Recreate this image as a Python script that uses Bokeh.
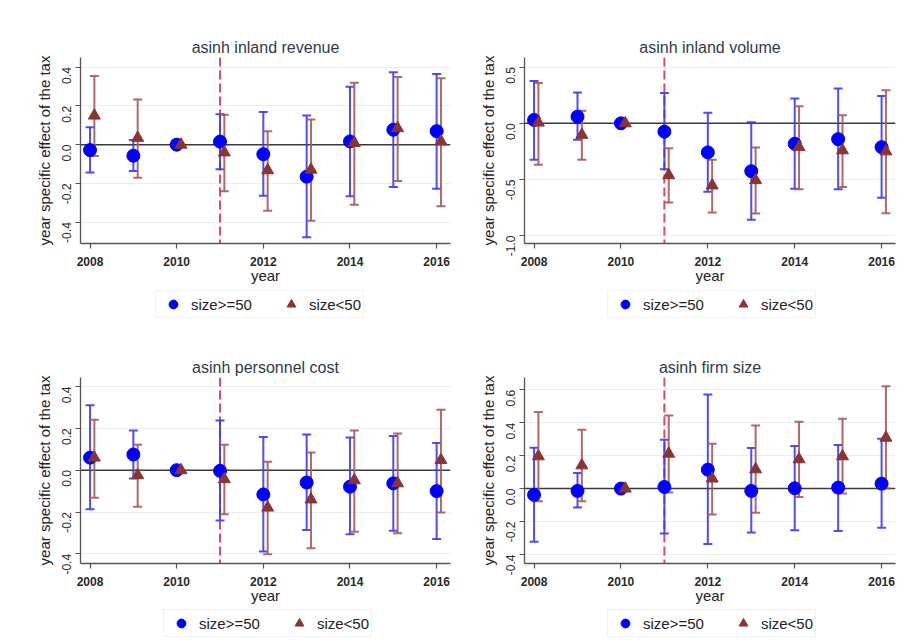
import math
from bokeh.plotting import figure
from bokeh.models import (ColumnDataSource, Whisker, TeeHead, Span, FixedTicker,
                          NumeralTickFormatter, Legend, LegendItem, Range1d)
from bokeh.layouts import row, column
from bokeh.embed import file_html
from bokeh.resources import INLINE

# ---------------- data ----------------
years = [2008, 2009, 2010, 2011, 2012, 2013, 2014, 2015, 2016]
x_ticks = [2008, 2010, 2012, 2014, 2016]
tax_year = 2011
baseline = 0.0
label_big = "size>=50"
label_small = "size<50"

# asinh inland revenue
rev_big = [-0.028, -0.057, 0.0, 0.016, -0.049, -0.165, 0.017, 0.077, 0.070]
rev_big_lo = [-0.144, -0.136, None, -0.127, -0.263, -0.478, -0.266, -0.219, -0.228]
rev_big_hi = [0.090, 0.024, None, 0.157, 0.169, 0.151, 0.299, 0.374, 0.365]
rev_small = [0.150, 0.035, 0.0, -0.040, -0.132, -0.129, 0.009, 0.085, 0.017]
rev_small_lo = [-0.059, -0.170, None, -0.240, -0.341, -0.393, -0.310, -0.188, -0.318]
rev_small_hi = [0.355, 0.233, None, 0.155, 0.070, 0.130, 0.320, 0.350, 0.343]
rev_yticks = [-0.4, -0.2, 0.0, 0.2, 0.4]

# asinh inland volume
vol_big = [0.030, 0.059, 0.0, -0.074, -0.259, -0.426, -0.182, -0.141, -0.212]
vol_big_lo = [-0.324, -0.147, None, -0.410, -0.609, -0.859, -0.582, -0.588, -0.662]
vol_big_hi = [0.376, 0.274, None, 0.270, 0.094, 0.009, 0.220, 0.309, 0.244]
vol_small = [0.006, -0.103, 0.0, -0.462, -0.553, -0.506, -0.212, -0.241, -0.250]
vol_small_lo = [-0.368, -0.324, None, -0.706, -0.794, -0.803, -0.588, -0.568, -0.800]
vol_small_hi = [0.359, 0.112, None, -0.221, -0.324, -0.215, 0.153, 0.071, 0.294]
vol_yticks = [-1.0, -0.5, 0.0, 0.5]

# asinh personnel cost
pc_big = [0.060, 0.075, 0.0, -0.003, -0.116, -0.059, -0.079, -0.063, -0.100]
pc_big_lo = [-0.187, -0.040, None, -0.241, -0.389, -0.286, -0.306, -0.290, -0.329]
pc_big_hi = [0.310, 0.190, None, 0.238, 0.159, 0.170, 0.156, 0.163, 0.130]
pc_small = [0.060, -0.024, 0.0, -0.043, -0.179, -0.140, -0.048, -0.063, 0.048]
pc_small_lo = [-0.132, -0.175, None, -0.211, -0.402, -0.373, -0.294, -0.302, -0.202]
pc_small_hi = [0.241, 0.122, None, 0.122, 0.040, 0.084, 0.190, 0.175, 0.289]
pc_yticks = [-0.4, -0.2, 0.0, 0.2, 0.4]

# asinh firm size
fs_big = [-0.038, -0.014, 0.0, 0.010, 0.115, -0.014, 0.002, 0.006, 0.030]
fs_big_lo = [-0.323, -0.115, None, -0.273, -0.337, -0.267, -0.253, -0.257, -0.238]
fs_big_hi = [0.248, 0.095, None, 0.297, 0.572, 0.246, 0.259, 0.265, 0.303]
fs_small = [0.196, 0.141, 0.0, 0.212, 0.061, 0.117, 0.178, 0.196, 0.309]
fs_small_lo = [-0.077, -0.077, None, -0.024, -0.158, -0.147, -0.051, -0.030, 0.000]
fs_small_hi = [0.465, 0.358, None, 0.444, 0.273, 0.384, 0.406, 0.424, 0.622]
fs_yticks = [-0.4, -0.2, 0.0, 0.2, 0.4, 0.6]

# ---------------- style ----------------
FONT = "Liberation Sans"
BLUE = "#0000FF"
BLUE_BAR = "#3A3AFF"
MAROON = "#8B3434"
MAROON_BAR = "#A65A5A"
DASH_RED = "#DC4A6A"
OFFSET = 0.1


def ci_source(xs, lo, hi, dx=0.0):
    xx, ll, hh = [], [], []
    for x, a, b in zip(xs, lo, hi):
        if a is None or b is None:
            continue
        xx.append(x + dx)
        ll.append(a)
        hh.append(b)
    return ColumnDataSource(dict(x=xx, lo=ll, hi=hh))


def panel(title, yr, yticks, big, big_lo, big_hi, small, small_lo, small_hi,
          width, height, bl, br, bt, bb):
    p = figure(width=width, height=height, output_backend="svg", toolbar_location=None,
               x_range=Range1d(2007.78, 2016.32), y_range=Range1d(*yr),
               min_border_left=bl, min_border_right=br, min_border_top=bt,
               min_border_bottom=bb, background_fill_color="white",
               border_fill_color="white")
    p.title.text = title
    p.outline_line_color = None
    p.title.text_font = FONT
    p.title.text_font_size = "16px"
    p.title.text_font_style = "normal"
    p.title.text_color = "#2E3B4A"
    p.title.align = "center"
    p.title.standoff = 3

    p.xgrid.visible = False
    p.ygrid.ticker = FixedTicker(ticks=yticks)
    p.ygrid.grid_line_color = "#E6EFF1"
    p.ygrid.grid_line_width = 1.2

    p.xaxis.ticker = FixedTicker(ticks=x_ticks)
    p.xaxis.axis_label = "year"
    p.xaxis.axis_label_text_font = FONT
    p.xaxis.axis_label_text_font_size = "15px"
    p.xaxis.axis_label_text_font_style = "normal"
    p.xaxis.axis_label_text_color = "#222222"
    p.xaxis.axis_label_standoff = -2
    p.xaxis.major_label_text_font = FONT
    p.xaxis.major_label_text_font_size = "12px"
    p.xaxis.major_label_text_font_style = "bold"
    p.xaxis.major_label_text_color = "#2A2A2A"
    p.xaxis.major_label_standoff = 8

    p.yaxis.ticker = FixedTicker(ticks=yticks)
    p.yaxis.formatter = NumeralTickFormatter(format="0.0")
    p.yaxis.axis_label = "year specific effect of the tax"
    p.yaxis.axis_label_text_font = FONT
    p.yaxis.axis_label_text_font_size = "15px"
    p.yaxis.axis_label_text_font_style = "normal"
    p.yaxis.axis_label_text_color = "#222222"
    p.yaxis.axis_label_standoff = 2
    p.yaxis.major_label_orientation = math.pi / 2
    p.yaxis.major_label_text_font = FONT
    p.yaxis.major_label_text_font_size = "12px"
    p.yaxis.major_label_text_color = "#2A2A2A"
    p.yaxis.major_label_standoff = 9

    for ax in (p.xaxis, p.yaxis):
        ax.axis_line_color = "#555555"
        ax.axis_line_width = 1.3
        ax.major_tick_line_color = "#555555"
        ax.major_tick_line_width = 1.2
        ax.major_tick_in = 0
        ax.major_tick_out = 5
        ax.minor_tick_line_color = None

    p.add_layout(Span(location=tax_year, dimension="height", line_color=DASH_RED,
                      line_width=2, line_dash="9 4", level="underlay"))
    p.add_layout(Span(location=baseline, dimension="width", line_color="#3A3A3A",
                      line_width=1.5, level="underlay"))

    sb = ci_source(years, big_lo, big_hi)
    ss = ci_source(years, small_lo, small_hi, OFFSET)
    for src, col in ((sb, BLUE_BAR), (ss, MAROON_BAR)):
        w = Whisker(source=src, base="x", lower="lo", upper="hi", dimension="height",
                    line_color=col, line_width=2, line_alpha=0.9,
                    upper_head=TeeHead(size=9, line_color=col, line_width=2, line_alpha=0.9),
                    lower_head=TeeHead(size=9, line_color=col, line_width=2, line_alpha=0.9))
        p.add_layout(w)

    p.scatter(years, big, marker="circle", size=13, fill_color=BLUE, line_color=BLUE)
    p.scatter([y + OFFSET for y in years], small, marker="triangle", size=12,
              fill_color=MAROON, line_color=MAROON)
    return p


def legend_fig(width, height, lx, ly, big, small):
    # legend strip below each panel; its frame is aligned with the panel frame
    q = figure(width=width, height=height, output_backend="svg", toolbar_location=None,
               x_range=Range1d(0, 1), y_range=Range1d(0, 1),
               x_axis_location=None, y_axis_location=None, min_border=0,
               background_fill_color="white", border_fill_color="white")
    q.outline_line_color = None
    q.grid.visible = False
    # proxy renderers of the same series (outside this strip's ranges -> not visible)
    r1 = q.scatter(years, big, marker="circle", size=13, fill_color=BLUE, line_color=BLUE)
    r2 = q.scatter(years, small, marker="triangle", size=12, fill_color=MAROON,
                   line_color=MAROON)
    legend = Legend(items=[LegendItem(label=label_big, renderers=[r1]),
                           LegendItem(label=label_small, renderers=[r2])],
                    orientation="horizontal", location=(lx, ly))
    legend.label_text_font = FONT
    legend.label_text_font_size = "15px"
    legend.label_text_color = "#222222"
    legend.border_line_color = "#DCE6E8"
    legend.border_line_width = 1
    legend.glyph_width = 30
    legend.glyph_height = 22
    legend.label_height = 22
    legend.spacing = 24
    legend.padding = 2
    legend.margin = 0
    legend.label_standoff = 3
    q.add_layout(legend, "center")
    return q


p1 = panel("asinh inland revenue", (-0.51, 0.45), rev_yticks, rev_big, rev_big_lo, rev_big_hi,
           rev_small, rev_small_lo, rev_small_hi, 455, 288, 80, 5, 57, 45)
p2 = panel("asinh inland volume", (-1.07, 0.586), vol_yticks, vol_big, vol_big_lo, vol_big_hi,
           vol_small, vol_small_lo, vol_small_hi, 454, 288, 69, 14, 57, 45)
p3 = panel("asinh personnel cost", (-0.446, 0.443), pc_yticks, pc_big, pc_big_lo, pc_big_hi,
           pc_small, pc_small_lo, pc_small_hi, 455, 278, 80, 5, 47, 45)
p4 = panel("asinh firm size", (-0.455, 0.675), fs_yticks, fs_big, fs_big_lo, fs_big_hi,
           fs_small, fs_small_lo, fs_small_hi, 454, 278, 69, 14, 47, 45)

l1 = legend_fig(455, 42, 75, 12, rev_big, rev_small)
l2 = legend_fig(454, 42, 83, 12, vol_big, vol_small)
l3 = legend_fig(455, 36, 83, 7, pc_big, pc_small)
l4 = legend_fig(454, 36, 83, 7, fs_big, fs_small)

layout = column(row(column(p1, l1), column(p2, l2)),
                row(column(p3, l3), column(p4, l4)))
open("out.html", "w").write(file_html(layout, INLINE))
